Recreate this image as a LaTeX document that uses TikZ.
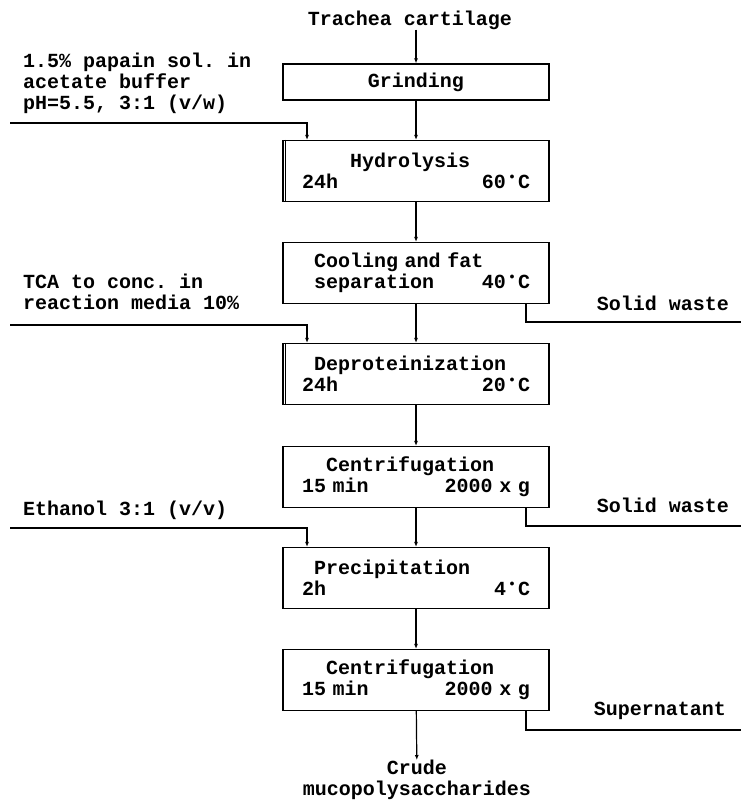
\documentclass[tikz,border=0pt]{standalone}
\usepackage{fontspec}
\setmonofont{Liberation Mono}
\usetikzlibrary{arrows.meta}

\newcommand{\dg}{\makebox[0.6em]{\raisebox{0.85ex}{\normalsize$\bullet$}}}

\tikzset{
    flow/.style={line width=1.2pt, -{Latex[length=5pt,width=4pt]}},
    pipe/.style={line width=1.2pt},
    stage/.style={draw, line width=1.2pt, minimum width=266pt, minimum height=61pt,
        inner sep=0pt, text width=228pt, align=left},
    lbl/.style={inner sep=0pt, align=left},
}

\begin{document}
\begin{tikzpicture}[x=1pt, y=-1pt,
        every node/.style={font=\ttfamily\bfseries\fontsize{20}{21}\selectfont}]
    \useasboundingbox (0,0) rectangle (741,803);

    % process boxes
    \node[lbl] (trachea) at (410,20) {Trachea cartilage};
    \node[stage, minimum height=36pt, align=center] (grind) at (416,82) {Grinding};
    \node[stage] (hydro) at (416,171) {\hspace*{2.4em}Hydrolysis\\24h\hfill 60\dg C};
    \node[stage] (cool) at (416,273) {\hspace*{0.6em}Cooling and fat\\\hspace*{0.6em}separation\hfill 40\dg C};
    \node[stage] (deprot) at (416,374) {\hspace*{0.6em}Deproteinization\\24h\hfill 20\dg C};
    \node[stage] (centa) at (416,477) {\hspace*{1.2em}Centrifugation\\15 min\hfill 2000 x g};
    \node[stage] (precip) at (416,578) {\hspace*{0.6em}Precipitation\\2h\hfill 4\dg C};
    \node[stage] (centb) at (416,680) {\hspace*{1.2em}Centrifugation\\15 min\hfill 2000 x g};
    \node[lbl, align=center, anchor=north] (crude) at (417,760) {Crude\\mucopolysaccharides};

    % double left edge
    \draw[pipe] ([xshift=3pt]hydro.north west) -- ([xshift=3pt]hydro.south west);
    \draw[pipe] ([xshift=3pt]deprot.north west) -- ([xshift=3pt]deprot.south west);

    % inputs
    \node[lbl, anchor=west] (papain) at (23,83) {1.5\% papain sol. in\\acetate buffer\\pH=5.5, 3:1 (v/w)};
    \node[lbl, anchor=west] (tca) at (23,292) {TCA to conc. in\\reaction media 10\%};
    \node[lbl, anchor=west] (ethanol) at (23,510) {Ethanol 3:1 (v/v)};
    \coordinate (inA) at (10,123);
    \coordinate (inB) at (10,325);
    \coordinate (inC) at (10,528);

    % outputs
    \node[lbl] (wasteA) at (663,303) {Solid waste};
    \node[lbl] (wasteB) at (663,505) {Solid waste};
    \node[lbl] (super) at (660,711) {Supernatant};
    \coordinate (outA) at (741,322);
    \coordinate (outB) at (741,526);
    \coordinate (outC) at (741,730);

    % main line
    \draw[flow] (trachea.south -| grind.north) -- (grind);
    \draw[flow] (grind) -- (hydro);
    \draw[flow] (hydro) -- (cool);
    \draw[flow] (cool) -- (deprot);
    \draw[flow] (deprot) -- (centa);
    \draw[flow] (centa) -- (precip);
    \draw[flow] (precip) -- (centb);
    \draw[flow] (centb) -- (crude);

    % side streams
    \draw[flow] (inA) -| ([xshift=-109pt]hydro.north);
    \draw[flow] (inB) -| ([xshift=-109pt]deprot.north);
    \draw[flow] (inC) -| ([xshift=-109pt]precip.north);
    \draw[pipe] ([xshift=110pt]cool.south) |- (outA);
    \draw[pipe] ([xshift=110pt]centa.south) |- (outB);
    \draw[pipe] ([xshift=110pt]centb.south) |- (outC);
\end{tikzpicture}
\end{document}
